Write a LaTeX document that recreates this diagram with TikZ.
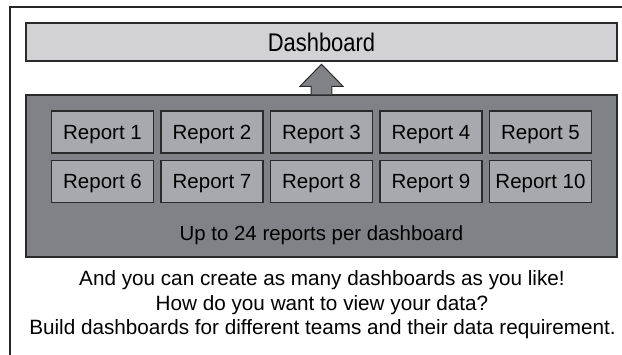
\documentclass[tikz,border=0pt]{standalone}
\usepackage{fontspec}
\setmainfont{Liberation Sans}
\newfontfamily\condfont[FakeStretch=0.86]{Liberation Sans}
\usetikzlibrary{calc}
\definecolor{dashfill}{HTML}{D2D2D4}
\definecolor{panelfill}{HTML}{818285}
\definecolor{reportfill}{HTML}{A8A9AC}
\definecolor{edgecol}{HTML}{2A2A2A}
\tikzset{
  boxbase/.style={draw=edgecol, line width=1.4pt, inner sep=0pt, anchor=center},
  dashbox/.style={boxbase, fill=dashfill, minimum width=591pt, minimum height=38pt,
    text height=18.3pt, text depth=0pt,
    font=\condfont\fontsize{25.5}{28}\selectfont},
  panelbox/.style={boxbase, fill=panelfill, minimum width=591pt, minimum height=162pt},
  reportbox/.style={boxbase, fill=reportfill, minimum width=102pt, minimum height=42pt,
    text height=14.7pt, text depth=0pt,
    font=\fontsize{20.5}{24}\selectfont},
  uparrow/.style={draw=edgecol, line width=1pt, fill=panelfill, line join=miter},
  caption/.style={inner sep=0pt, anchor=base, font=\fontsize{20.4}{24}\selectfont, text=black},
  note/.style={inner sep=0pt, anchor=base, font=\fontsize{20.7}{24}\selectfont, text=black},
  framepath/.style={draw=black!85, line width=1.3pt}
}
\begin{document}
\begin{tikzpicture}[x=1pt, y=-1pt]
  \useasboundingbox (0,0) rectangle (622,354);
  % outer frame (only its left and top sides fall inside the page)
  \draw[framepath] (10,360) -- (10,7) -- (630,7);

  % dashboard bar
  \node[dashbox] (dash) at (321.5,42) {Dashboard};

  % report panel
  \node[panelbox] (panel) at (321.5,176) {};

  % report tiles, two rows of five
  \foreach \i/\c in {1/0,2/1,3/2,4/3,5/4}{
    \node[reportbox] (r\i) at ({102.5+109.5*\c},132) {Report \i};
  }
  \foreach \i/\c in {6/0,7/1,8/2,9/3,10/4}{
    \node[reportbox] (r\i) at ({102.5+109.5*\c},181.5) {Report \i};
  }

  \node[caption] (cap) at (321.5,240) {Up to 24 reports per dashboard};

  % block arrow from the panel up to the dashboard
  \coordinate (ab) at (panel.north);
  \draw[uparrow] ($(ab)+(-10.3,0)$) -- ($(ab)+(-10.3,-8)$) -- ($(ab)+(-21.5,-8)$)
    -- ($(ab)+(0,-30)$) -- ($(ab)+(21.5,-8)$) -- ($(ab)+(10.3,-8)$)
    -- ($(ab)+(10.3,0)$);

  % closing remarks
  \node[note] (l1) at (322,285) {And you can create as many dashboards as you like!};
  \node[note] (l2) at (322,310) {How do you want to view your data?};
  \node[note] (l3) at (322.5,334) {Build dashboards for different teams and their data requirement.};
\end{tikzpicture}
\end{document}
